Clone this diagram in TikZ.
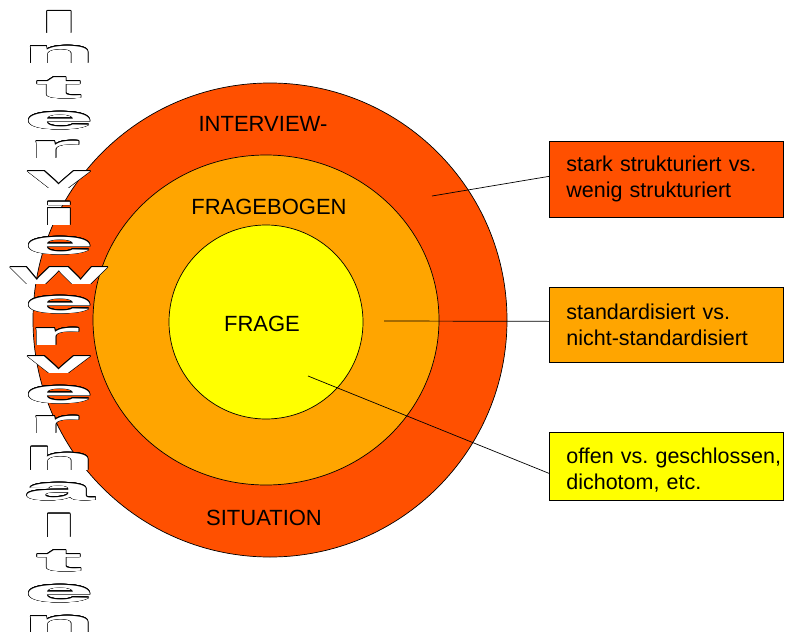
\documentclass[tikz,border=0pt]{standalone}
\usepackage{fontspec}
\setmainfont{Liberation Sans}
\usepackage{graphicx}
\usepackage[copies]{contour}
\contourlength{0.6pt}

\definecolor{rot}{RGB}{255,80,0}
\definecolor{gelborange}{RGB}{255,165,0}
\definecolor{gelb}{RGB}{255,255,0}

\newcommand{\hohl}[2]{\contour{black}{\scalebox{#1}[1]{#2}}}

\tikzset{
  buchstabe/.style={anchor=base, inner sep=0pt, text=white, font=\fontsize{32}{32}\selectfont\bfseries},
  schrift/.style={font=\fontsize{22}{26}\selectfont},
  kasten/.style={draw, anchor=north west, minimum width=234pt, text width=200pt,
    inner xsep=17pt, align=left, font=\fontsize{21.5}{26}\selectfont\frenchspacing}
}

\begin{document}
\begin{tikzpicture}[x=1pt,y=-1pt,line width=0.7pt]

\useasboundingbox (0,0) rectangle (785,632);

\draw[fill=rot]  (270,320)  circle [radius=237pt];
\draw[fill=gelborange]  (266,320)  ellipse [x radius=173pt, y radius=165pt];
\draw[fill=gelb]  (266,322)  circle [radius=97pt];

\node[schrift] (interview) at (263,124) {INTERVIEW-};
\node[schrift] (fragebogen) at (269,207) {FRAGEBOGEN};
\node[schrift] (frage) at (262,324) {FRAGE};
\node[schrift] (situation) at (264,518) {SITUATION};

\node[kasten, fill=rot, minimum height=76pt] (stark) at (549,141)
  {stark strukturiert vs.\\ wenig strukturiert};
\node[kasten, fill=gelborange, minimum height=75pt] (standard) at (549,287)
  {standardisiert vs.\\ nicht-standardisiert};
\node[kasten, fill=gelb, minimum height=68pt] (offen) at (549,432)
  {\rule{0pt}{24pt}\mbox{offen vs. geschlossen,}\\ dichotom, etc.};

\coordinate (p1) at (432,196);
\coordinate (p2) at (384,321);
\coordinate (p3) at (308,376);

\draw  (p1)  --  ([yshift=3pt]stark.west);
\draw  (p2)  --  ([yshift=3.5pt]standard.west);
\draw  (p3)  --  ([yshift=-7pt]offen.west);

\node[buchstabe] (b1) at (59,33) {\hohl{5.1}{I}};
\node[buchstabe] (b2) at (59,63) {\hohl{3.7}{n}};
\node[buchstabe] (b3) at (59,98) {\hohl{4.4}{t}};
\node[buchstabe] (b4) at (59,129) {\hohl{3.95}{e}};
\node[buchstabe] (b5) at (54,158) {\hohl{4.3}{r}};
\node[buchstabe] (b6) at (59,188) {\hohl{3.6}{v}};
\node[buchstabe] (b7) at (59,225) {\hohl{5.0}{i}};
\node[buchstabe] (b8) at (59,254) {\hohl{3.95}{e}};
\node[buchstabe] (b9) at (59,284) {\hohl{3.9}{w}};
\node[buchstabe] (b10) at (59,313) {\hohl{3.95}{e}};
\node[buchstabe] (b11) at (54,345) {\hohl{4.3}{r}};
\node[buchstabe] (b12) at (59,373) {\hohl{3.6}{v}};
\node[buchstabe] (b13) at (59,403) {\hohl{3.95}{e}};
\node[buchstabe] (b14) at (54,433) {\hohl{4.3}{r}};
\node[buchstabe] (b15) at (59,470) {\hohl{3.7}{h}};
\node[buchstabe] (b16) at (59,500) {\hohl{4.0}{a}};
\node[buchstabe] (b17) at (59,537) {\hohl{5.0}{l}};
\node[buchstabe] (b18) at (59,571) {\hohl{4.4}{t}};
\node[buchstabe] (b19) at (59,602) {\hohl{3.95}{e}};
\node[buchstabe] (b20) at (59,633) {\hohl{3.7}{n}};

\end{tikzpicture}
\end{document}
